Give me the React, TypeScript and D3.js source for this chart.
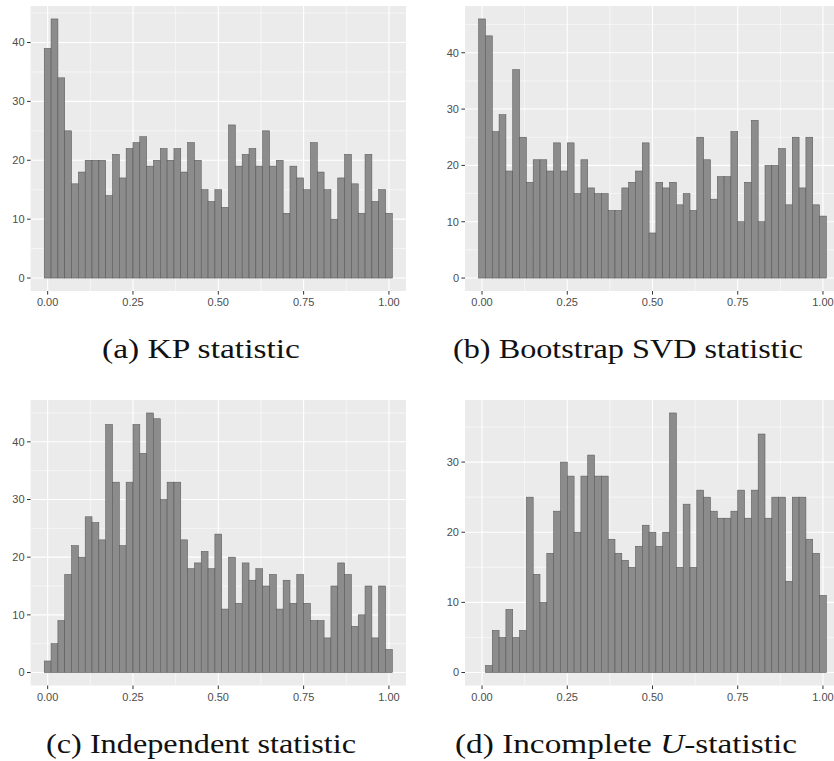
import React from "react";
import * as d3 from "d3";

// Histogram counts per bin (bins of width 0.02 centred at 0.00, 0.02, ..., 1.00)
const BIN_WIDTH = 0.02;
const BIN_CENTERS = d3.range(51).map((i) => +(i * BIN_WIDTH).toFixed(2));

const KP_COUNTS = [39, 44, 34, 25, 16, 18, 20, 20, 20, 14, 21, 17, 22, 23, 24, 19, 20, 22, 20, 22, 18, 23, 20, 15, 13, 15, 12, 26, 19, 21, 22, 19, 25, 19, 20, 11, 19, 17, 15, 23, 18, 15, 10, 17, 21, 16, 11, 21, 13, 15, 11];
const BOOTSTRAP_COUNTS = [46, 43, 26, 29, 19, 37, 25, 17, 21, 21, 19, 24, 19, 24, 15, 21, 16, 15, 15, 12, 12, 16, 17, 19, 24, 8, 17, 16, 17, 13, 15, 12, 25, 21, 14, 18, 18, 26, 10, 17, 28, 10, 20, 20, 23, 13, 25, 16, 25, 13, 11];
const INDEPENDENT_COUNTS = [2, 5, 9, 17, 22, 20, 27, 26, 23, 43, 33, 22, 33, 43, 38, 45, 44, 30, 33, 33, 23, 18, 19, 21, 18, 24, 11, 20, 12, 19, 16, 18, 15, 17, 11, 16, 12, 17, 12, 9, 9, 6, 15, 19, 17, 8, 10, 15, 6, 15, 4];
const INCOMPLETE_U_COUNTS = [0, 1, 6, 5, 9, 5, 6, 25, 14, 10, 17, 23, 30, 28, 20, 28, 31, 28, 28, 19, 17, 16, 15, 18, 21, 20, 18, 20, 37, 15, 24, 15, 26, 25, 23, 22, 22, 23, 26, 22, 26, 34, 22, 25, 25, 13, 25, 25, 19, 17, 11];

const X_TICKS = [0, 0.25, 0.5, 0.75, 1];
const X_TICK_LABELS = ["0.00", "0.25", "0.50", "0.75", "1.00"];
const X_MINOR = [0.125, 0.375, 0.625, 0.875];

type PanelSpec = {
  counts: number[];
  x0: number;
  x1: number;
  y0: number;
  y1: number;
};

const PANEL_BG = "#EBEBEB";
const AXIS_TEXT = "#4D4D4D";
const TICK_COLOR = "#333333";

function Histogram({ counts, x0, x1, y0, y1 }: PanelSpec) {
  const x = d3.scaleLinear().domain([-0.05, 1.05]).range([x0, x1]);
  const maxC = d3.max(counts) as number;
  const y = d3
    .scaleLinear()
    .domain([-0.05 * maxC, maxC * 1.05])
    .range([y1, y0]);
  const yTicks = d3.range(0, maxC + 0.001, 10);
  const yMinor = d3.range(5, maxC * 1.05, 10);
  const clipId = `clip-${x0}-${y0}`;
  const bars = BIN_CENTERS.map((c, i) => ({ c, n: counts[i] })).filter((d) => d.n > 0);

  return (
    <g>
      <defs>
        <clipPath id={clipId}>
          <rect x={x0} y={y0} width={x1 - x0} height={y1 - y0} />
        </clipPath>
      </defs>
      <rect x={x0} y={y0} width={x1 - x0} height={y1 - y0} fill={PANEL_BG} />
      <g clipPath={`url(#${clipId})`}>
        {yMinor.map((v) => (
          <line key={`ym${v}`} x1={x0} x2={x1} y1={y(v)} y2={y(v)} stroke="#fff" strokeWidth={0.55} />
        ))}
        {X_MINOR.map((v) => (
          <line key={`xm${v}`} x1={x(v)} x2={x(v)} y1={y0} y2={y1} stroke="#fff" strokeWidth={0.55} />
        ))}
        {yTicks.map((v) => (
          <line key={`yM${v}`} x1={x0} x2={x1} y1={y(v)} y2={y(v)} stroke="#fff" strokeWidth={1.1} />
        ))}
        {X_TICKS.map((v) => (
          <line key={`xM${v}`} x1={x(v)} x2={x(v)} y1={y0} y2={y1} stroke="#fff" strokeWidth={1.1} />
        ))}
        {bars.map((d) => (
          <rect
            key={d.c}
            x={x(d.c - BIN_WIDTH / 2)}
            y={y(d.n)}
            width={x(d.c + BIN_WIDTH / 2) - x(d.c - BIN_WIDTH / 2)}
            height={y(0) - y(d.n)}
            fill="#8C8C8C"
            stroke="#575757"
            strokeWidth={0.55}
          />
        ))}
      </g>
      {/* y axis */}
      {yTicks.map((v) => (
        <g key={`yt${v}`}>
          <line x1={x0 - 3.6} x2={x0} y1={y(v)} y2={y(v)} stroke={TICK_COLOR} strokeWidth={1} />
          <text
            x={x0 - 6}
            y={y(v)}
            dy="0.35em"
            textAnchor="end"
            fontFamily="'Liberation Sans', Arial, sans-serif"
            fontSize={11}
            fill={AXIS_TEXT}
          >
            {v}
          </text>
        </g>
      ))}
      {/* x axis */}
      {X_TICKS.map((v, i) => (
        <g key={`xt${v}`}>
          <line x1={x(v)} x2={x(v)} y1={y1} y2={y1 + 3.6} stroke={TICK_COLOR} strokeWidth={1} />
          <text
            x={x(v)}
            y={y1 + 15}
            textAnchor="middle"
            fontFamily="'Liberation Sans', Arial, sans-serif"
            fontSize={11}
            fill={AXIS_TEXT}
          >
            {X_TICK_LABELS[i]}
          </text>
        </g>
      ))}
    </g>
  );
}

const CAPTION_FONT = "'Liberation Serif', 'Times New Roman', serif";

export default function App() {
  const topY0 = 6;
  const topY1 = 291;
  const botY0 = 400;
  const botY1 = 685.5;
  const leftX0 = 30.6;
  const leftX1 = 406;
  const rightX0 = 465;
  const rightX1 = 840;

  return (
    <svg
      width={834}
      height={761}
      style={{ position: "absolute", left: 0, top: 0, background: "#fff" }}
    >
      <Histogram counts={KP_COUNTS} x0={leftX0} x1={leftX1} y0={topY0} y1={topY1} />
      <Histogram counts={BOOTSTRAP_COUNTS} x0={rightX0} x1={rightX1} y0={topY0} y1={topY1} />
      <Histogram counts={INDEPENDENT_COUNTS} x0={leftX0} x1={leftX1} y0={botY0} y1={botY1} />
      <Histogram counts={INCOMPLETE_U_COUNTS} x0={rightX0} x1={rightX1} y0={botY0} y1={botY1} />

      <g fontFamily={CAPTION_FONT} fontSize={27} fill="#111">
        <text x={201} y={358} textAnchor="middle" textLength={198} lengthAdjust="spacingAndGlyphs">
          (a) KP statistic
        </text>
        <text x={628} y={358} textAnchor="middle" textLength={350} lengthAdjust="spacingAndGlyphs">
          (b) Bootstrap SVD statistic
        </text>
        <text x={201} y={753} textAnchor="middle" textLength={310} lengthAdjust="spacingAndGlyphs">
          (c) Independent statistic
        </text>
        <text x={626} y={753} textAnchor="middle" textLength={342} lengthAdjust="spacingAndGlyphs">
          (d) Incomplete <tspan fontStyle="italic">U</tspan>-statistic
        </text>
      </g>
    </svg>
  );
}
